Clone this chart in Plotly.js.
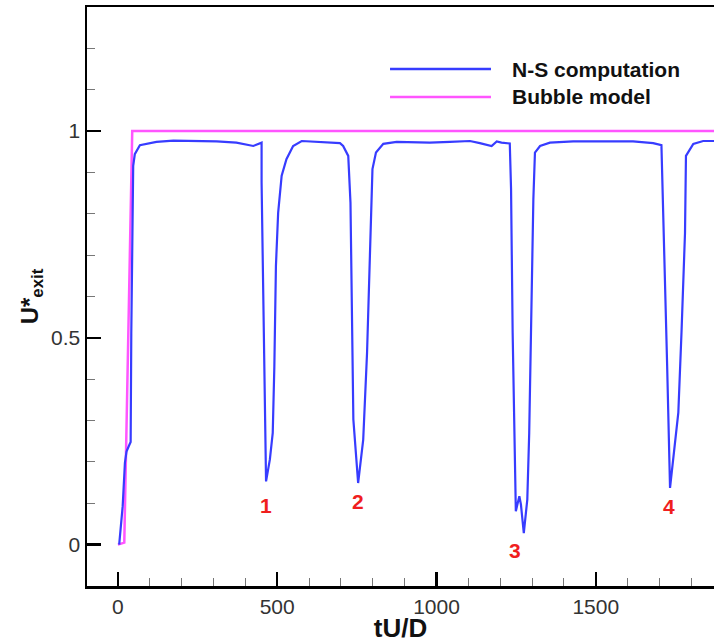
<!DOCTYPE html>
<html>
<head>
<meta charset="utf-8">
<script src="https://cdn.plot.ly/plotly-3.0.1.min.js"></script>
<style>html,body{margin:0;padding:0;background:#fff;overflow:hidden;}</style>
</head>
<body>
<div id="chart" style="width:714px;height:643px;"></div>
<script>
// N-S computation (blue)
const nsX = [4, 8, 15, 22, 27, 34, 40, 42, 46, 48, 53, 69, 121, 174, 310, 372, 425, 451,
  451, 454, 456, 461, 465, 477, 486, 491, 496, 503, 514, 529, 550, 577, 644, 697,
  707, 723, 730, 733, 739, 754, 770, 782, 791, 799, 810, 833, 875, 979, 1042, 1105, 1136, 1173, 1189, 1204, 1230,
  1234, 1239, 1243, 1249, 1260, 1265, 1274, 1285, 1291, 1296, 1304, 1309, 1325, 1356, 1429, 1617, 1680, 1706,
  1709, 1717, 1724, 1733, 1741, 1759, 1769, 1780, 1783, 1806, 1837, 1871];
const nsY = [0.0, 0.036, 0.093, 0.198, 0.225, 0.238, 0.248, 0.51, 0.71, 0.916, 0.944, 0.966, 0.974, 0.977, 0.975, 0.972, 0.964, 0.972,
  0.876, 0.706, 0.545, 0.375, 0.153, 0.206, 0.27, 0.43, 0.674, 0.803, 0.892, 0.932, 0.964, 0.976, 0.974, 0.971,
  0.964, 0.94, 0.827, 0.625, 0.303, 0.149, 0.254, 0.464, 0.706, 0.908, 0.948, 0.969, 0.974, 0.972, 0.974, 0.976, 0.971, 0.964, 0.975, 0.972, 0.97,
  0.86, 0.513, 0.327, 0.081, 0.117, 0.097, 0.028, 0.109, 0.27, 0.513, 0.835, 0.948, 0.964, 0.972, 0.975, 0.975, 0.971, 0.966,
  0.884, 0.674, 0.43, 0.137, 0.19, 0.319, 0.513, 0.754, 0.94, 0.969, 0.976, 0.976];

// Bubble model (magenta)
const bubX = [0, 20, 45, 2000];
const bubY = [0, 0.005, 1.0, 1.0];

// Event labels
const evtText = ['1', '2', '3', '4'];
const evtX = [464, 753, 1246, 1729];
const evtY = [0.095, 0.104, -0.015, 0.092];

const seriesNames = ['N-S computation', 'Bubble model'];
const xTicks = [0, 500, 1000, 1500];
const yTicks = [0, 0.5, 1];
const yTickText = ['0', '0.5', '1'];

const blue = 'rgb(55,60,255)';
const pink = 'rgb(255,85,255)';

const traces = [
  {x: bubX, y: bubY, mode: 'lines', name: seriesNames[1], line: {color: pink, width: 2.5}},
  {x: nsX, y: nsY, mode: 'lines', name: seriesNames[0], line: {color: blue, width: 2.2}}
];

const ann = evtText.map((t, i) => ({
  x: evtX[i], y: evtY[i], xref: 'x', yref: 'y', text: '<b>' + t + '</b>', showarrow: false,
  font: {family: 'Liberation Sans, Arial, sans-serif', size: 21, color: 'rgb(240,30,30)'}
}));

const legY = [0.8929, 0.8446];
const shapes = [];
seriesNames.forEach((n, i) => {
  shapes.push({type: 'line', xref: 'paper', yref: 'paper', x0: 0.4833, x1: 0.6443, y0: legY[i], y1: legY[i],
    line: {color: i === 0 ? blue : pink, width: 2.5}});
  ann.push({xref: 'paper', yref: 'paper', x: 0.6746, y: legY[i], xanchor: 'left', yanchor: 'middle', showarrow: false,
    text: '<b>' + n + '</b>', font: {family: 'Liberation Sans, Arial, sans-serif', size: 21, color: '#111'}});
});

const layout = {
  width: 714, height: 643,
  margin: {l: 87, r: 0, t: 7, b: 57},
  paper_bgcolor: '#fff', plot_bgcolor: '#fff',
  showlegend: false,
  font: {family: 'Liberation Sans, Arial, sans-serif', color: '#222'},
  xaxis: {
    range: [-97, 1871], showgrid: false, zeroline: false,
    showline: true, linecolor: '#000', linewidth: 2.5, mirror: true,
    ticks: 'inside', ticklen: 14, tickwidth: 2.5, tickcolor: '#000',
    tickvals: xTicks, ticktext: xTicks.map(String),
    tickfont: {size: 21, color: '#333'},
    minor: {dtick: 100, ticks: 'inside', ticklen: 8, tickwidth: 1, tickcolor: '#777', showgrid: false},
    title: {text: '<b>tU/D</b>', font: {size: 26, color: '#111'}, standoff: 0}
  },
  yaxis: {
    range: [-0.1, 1.3], showgrid: false, zeroline: false,
    showline: true, linecolor: '#000', linewidth: 2.5, mirror: false,
    ticks: 'inside', ticklen: 14, tickwidth: 2.5, tickcolor: '#000',
    tickvals: yTicks, ticktext: yTickText,
    tickfont: {size: 21, color: '#333'},
    minor: {dtick: 0.1, ticks: 'inside', ticklen: 8, tickwidth: 1, tickcolor: '#777', showgrid: false},
    title: {text: '<b>U*<sub>exit</sub></b>', font: {size: 24, color: '#111'}, standoff: 6}
  },
  annotations: ann,
  shapes: shapes
};

Plotly.newPlot('chart', traces, layout, {displayModeBar: false, staticPlot: true});
</script>
</body>
</html>
